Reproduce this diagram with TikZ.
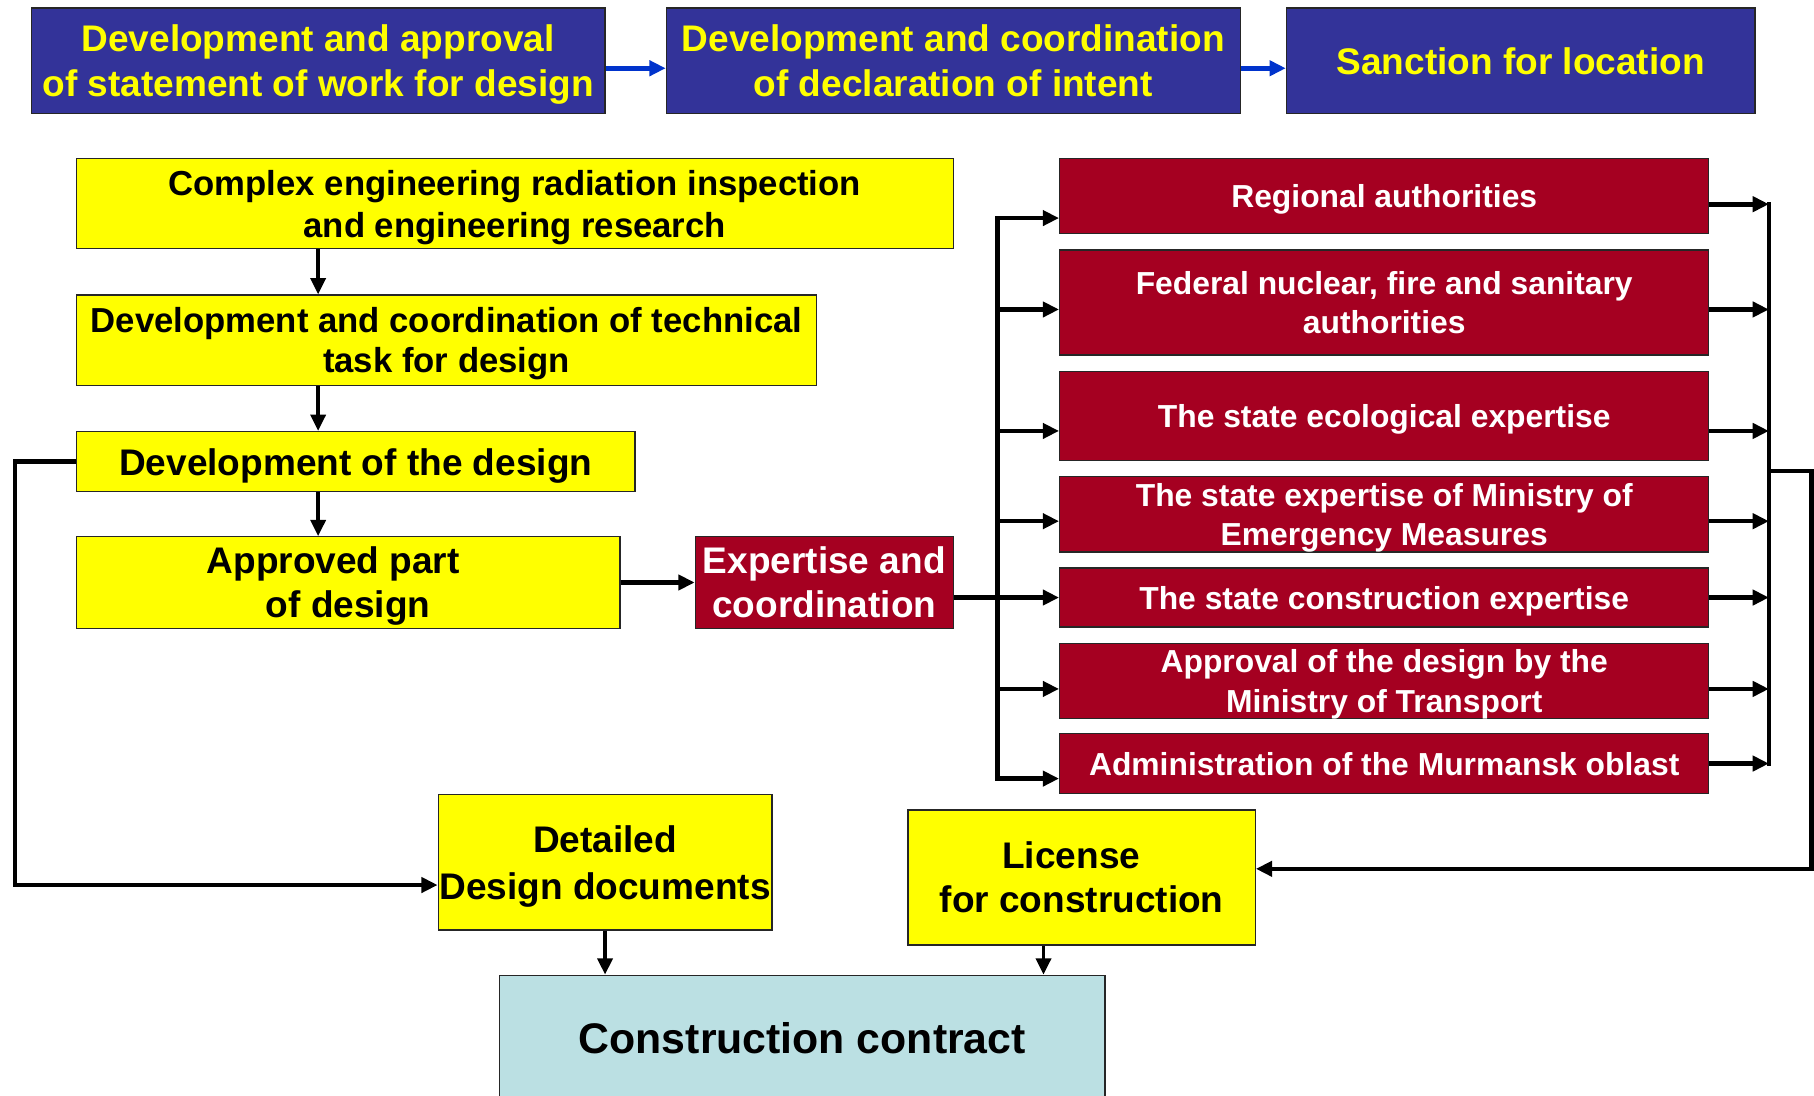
\documentclass[tikz,border=0pt]{standalone}
\usepackage{fontspec}
\setmainfont{Liberation Sans}
\usetikzlibrary{calc,positioning,arrows.meta}
\definecolor{planblue}{RGB}{51,51,153}
\definecolor{planyellow}{RGB}{255,255,0}
\definecolor{planred}{RGB}{165,0,33}
\definecolor{plancyan}{RGB}{187,224,227}
\definecolor{planarrow}{RGB}{0,51,204}
\begin{document}
\begin{tikzpicture}
[x=1pt,y=-1pt,>={Triangle[length=14pt,width=13pt]},
box/.style = {draw=black!85, line width=1.2pt, align=center, inner sep=1pt, text depth=0pt},
bluebox/.style = {box, fill=planblue, text=planyellow, font=\bfseries\fontsize{32}{39}\selectfont},
yellowbox/.style = {box, fill=planyellow, font=\bfseries\fontsize{32}{38}\selectfont},
redbox/.style = {box, fill=planred, text=white, minimum width=561pt, font=\bfseries\fontsize{27.5}{34}\selectfont},
link/.style = {line width=4pt},
]
\useasboundingbox (0,0) rectangle (1568,947);
\node (B1) at (275,52.5)[bluebox,minimum width=496pt,minimum height=91pt] {Development and approval\\of statement of work for design};
\node (B2) at (824,52.5)[bluebox,minimum width=496pt,minimum height=91pt] {Development and coordination\\of declaration of intent};
\node (B3) at (1314.5,52.5)[bluebox,minimum width=405pt,minimum height=91pt] {Sanction for location};
\node (Y1) at (445,176)[yellowbox,minimum width=758pt,minimum height=78pt,font=\bfseries\fontsize{30}{36}\selectfont] {Complex engineering radiation inspection\\and engineering research};
\node (Y2) at (386,294)[yellowbox,minimum width=640pt,minimum height=78pt,font=\bfseries\fontsize{30}{35}\selectfont] {Development and coordination of technical\\task for design};
\node (Y3) at (307.5,399)[yellowbox,minimum width=483pt,minimum height=52pt] {Development of the design};
\node (Y4) at (301,503.5)[yellowbox,minimum width=470pt,minimum height=79pt] {Approved part\hspace*{26pt}\\of design};
\node (E) at (712.5,503.5)[redbox,minimum width=223pt,minimum height=79pt,font=\bfseries\fontsize{32}{38}\selectfont] {Expertise and\\coordination};
\node (R1) at (1196.5,169.5)[redbox,minimum height=65pt] {Regional authorities};
\node (R2) at (1196.5,261.5)[redbox,minimum height=91pt] {Federal nuclear, fire and sanitary\\authorities};
\node (R3) at (1196.5,359.5)[redbox,minimum height=77pt] {The state ecological expertise};
\node (R4) at (1196.5,444.5)[redbox,minimum height=65pt] {The state expertise of Ministry of\\Emergency Measures};
\node (R5) at (1196.5,516.5)[redbox,minimum height=51pt] {The state construction expertise};
\node (R6) at (1196.5,588.5)[redbox,minimum height=65pt] {Approval of the design by the\\Ministry of Transport};
\node (R7) at (1196.5,660)[redbox,minimum height=52pt] {Administration of the Murmansk oblast};
\node (D) at (523,745.5)[yellowbox,minimum width=288pt,minimum height=117pt,font=\bfseries\fontsize{32}{40}\selectfont] {Detailed\\Design documents};
\node (L) at (935,758.5)[yellowbox,minimum width=300pt,minimum height=117pt] {License\hspace*{18pt}\\for construction};
\node (C) at (693.5,897)[box,fill=plancyan,minimum width=523pt,minimum height=108pt,font=\bfseries\fontsize{37}{44}\selectfont] {Construction contract};
\coordinate (spine) at (275,0);
\coordinate (lbus) at (862,0);
\coordinate (rbus) at (1529,407);
\coordinate (rout) at (1566,407);
\coordinate (lout) at (13,399);
\draw[->,line width=4pt,planarrow] ($(B1.east)+(0,6.5)$) -- ($(B2.west)+(0,6.5)$);
\draw[->,line width=4pt,planarrow] ($(B2.east)+(0,6.5)$) -- ($(B3.west)+(0,6.5)$);
\draw[->,link,line width=3pt] (Y1.south -| spine) -- (Y2.north -| spine);
\draw[->,link,line width=3pt] (Y2.south -| spine) -- (Y3.north -| spine);
\draw[->,link,line width=3pt] (Y3.south -| spine) -- (Y4.north -| spine);
\draw[->,link] (Y4.east) -- (E.west);
\draw[link] (E.east |- R5.west) -- (lbus |- R5.west);
\draw[link,line cap=rect] ($(lbus |- R1.west)+(0,19)$) -- ($(lbus |- R7.west)+(0,13)$);
\draw[link,line cap=rect] ($(rbus |- R1.east)+(0,7)$) -- (rbus |- R7.east);
\foreach \n/\l/\r in {R1/19/7, R2/6/6, R3/13/13, R4/6/6, R5/0/0, R6/7/7, R7/13/0} {
  \draw[->,link] ($(lbus |- \n.west)+(0,\l)$) -- ($(\n.west)+(0,\l)$);
  \draw[->,link] ($(\n.east)+(0,\r)$) -- ($(rbus |- \n.east)+(0,\r)$);
}
\draw[->,link] (rbus) -- (rout) |- ($(L.east)+(0,-7.5)$);
\draw[->,link] (Y3.west) -- (lout) |- ($(D.west)+(0,19.5)$);
\draw[->,link,line width=3pt] (D.south) -- (D.south |- C.north);
\draw[->,link,line width=3pt] ($(L.south)+(-33,0)$) -- ($(L.south |- C.north)+(-33,0)$);

\end{tikzpicture}
\end{document}
